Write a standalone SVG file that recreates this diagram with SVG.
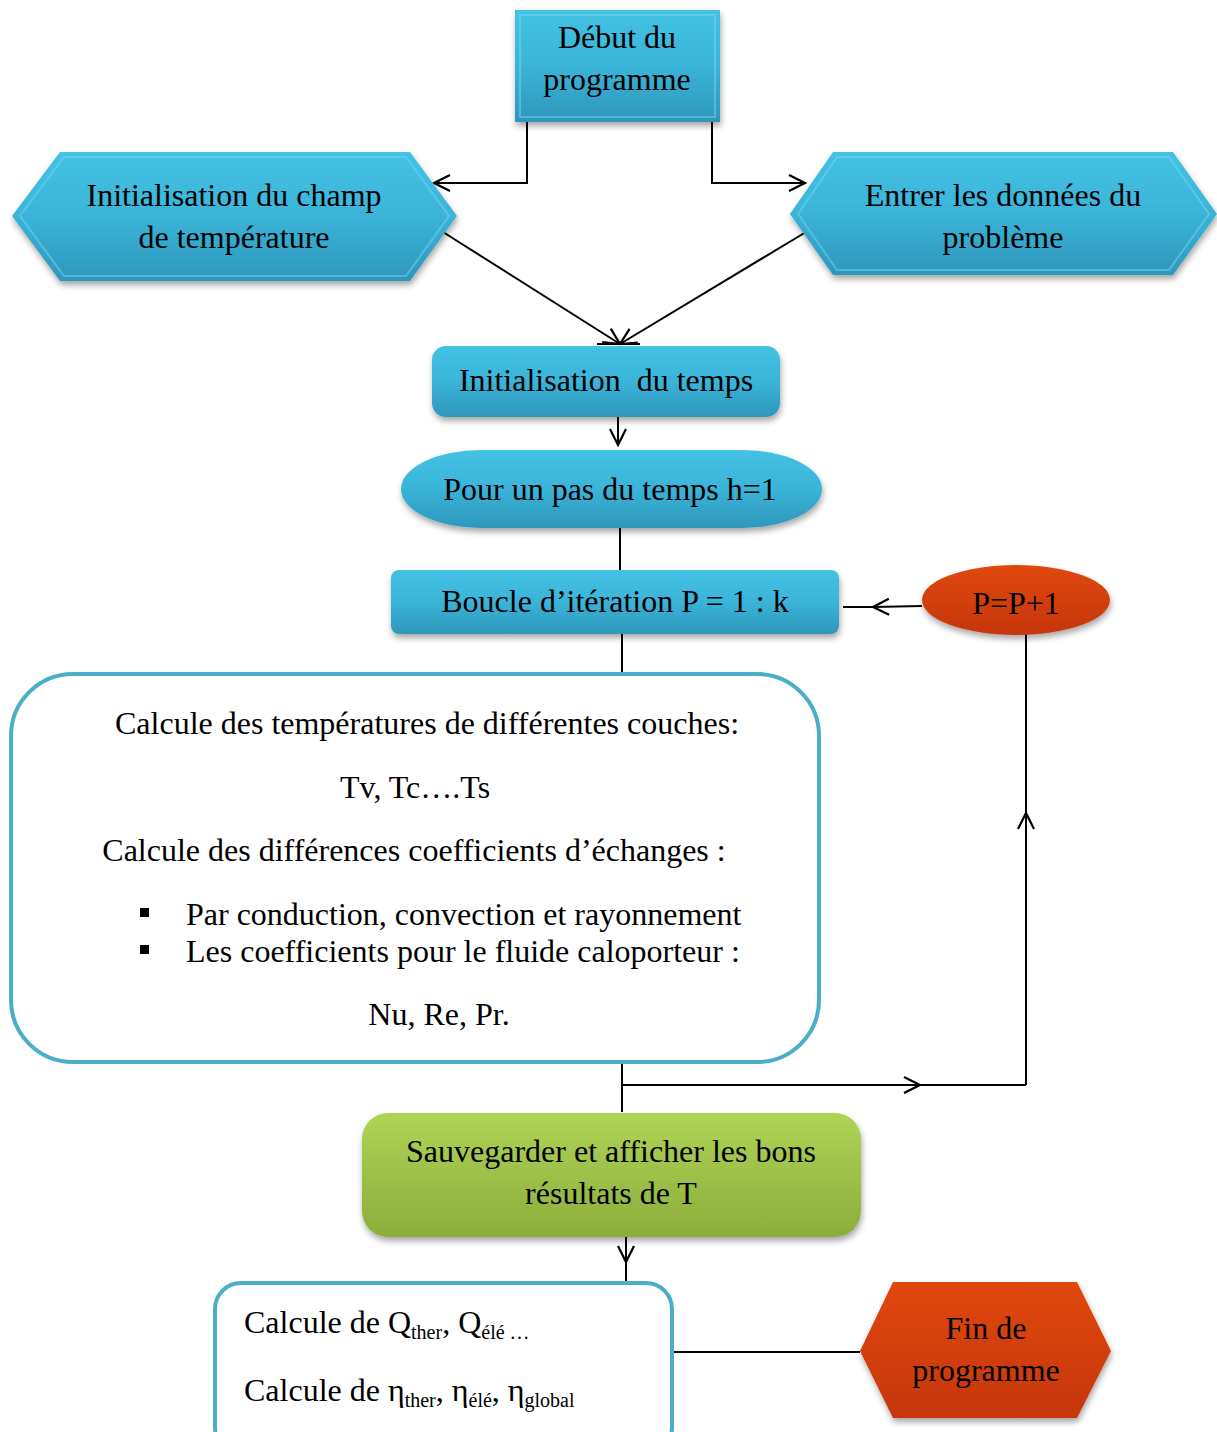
<svg xmlns="http://www.w3.org/2000/svg" width="1217" height="1432" viewBox="0 0 1217 1432">
<style>
text{font-family:"Liberation Serif","Times New Roman",serif;fill:#000;font-size:32px}
.c{text-anchor:middle}
.blue{fill:url(#gb);filter:url(#sh)}
.red{fill:url(#gr);filter:url(#sh)}
.green{fill:url(#gg);filter:url(#sh)}
.frame{fill:#fff;stroke:#4aaec8;stroke-width:4}
.ln{stroke:#000;stroke-width:2;fill:none}
.hl{fill:none;stroke:#7fdaf2;stroke-width:2;opacity:0.45}
.sub{font-size:20px}
</style>
<defs>
<linearGradient id="gb" x1="0" y1="0" x2="0" y2="1">
<stop offset="0" stop-color="#44c2e4"/><stop offset="0.5" stop-color="#3ab4d8"/><stop offset="1" stop-color="#2e97bb"/>
</linearGradient>
<linearGradient id="gr" x1="0" y1="0" x2="0" y2="1">
<stop offset="0" stop-color="#e0480f"/><stop offset="1" stop-color="#c63607"/>
</linearGradient>
<linearGradient id="gg" x1="0" y1="0" x2="0" y2="1">
<stop offset="0" stop-color="#aed456"/><stop offset="1" stop-color="#8cad3c"/>
</linearGradient>
<filter id="sh" x="-10%" y="-10%" width="120%" height="130%">
<feGaussianBlur in="SourceAlpha" stdDeviation="3"/>
<feOffset dx="1" dy="4" result="b"/>
<feComponentTransfer><feFuncA type="linear" slope="0.35"/></feComponentTransfer>
<feMerge><feMergeNode/><feMergeNode in="SourceGraphic"/></feMerge>
</filter>
<marker id="ar" viewBox="0 0 20 20" refX="18" refY="10" markerWidth="20" markerHeight="20" markerUnits="userSpaceOnUse" orient="auto">
<path d="M2,2 L18,10 L2,18" fill="none" stroke="#000" stroke-width="2.2"/>
</marker>
</defs>

<g id="connectors">
<polyline class="ln" points="527,122 527,183 434,183" marker-end="url(#ar)"/>
<polyline class="ln" points="712,122 712,183 805,183" marker-end="url(#ar)"/>
<line class="ln" x1="443" y1="232" x2="620" y2="344" marker-end="url(#ar)"/>
<line class="ln" x1="806" y1="232" x2="620" y2="344" marker-end="url(#ar)"/>
<line class="ln" x1="597" y1="344" x2="640" y2="344"/>
<line class="ln" x1="618" y1="417" x2="618" y2="445" marker-end="url(#ar)"/>
<line class="ln" x1="620" y1="528" x2="620" y2="570"/>
<line class="ln" x1="922" y1="606" x2="873" y2="607" marker-end="url(#ar)"/>
<line class="ln" x1="873" y1="607" x2="843" y2="607"/>
<line class="ln" x1="622" y1="634" x2="622" y2="673"/>
<line class="ln" x1="622" y1="1063" x2="622" y2="1112"/>
<line class="ln" x1="622" y1="1085" x2="920" y2="1085" marker-end="url(#ar)"/>
<line class="ln" x1="920" y1="1085" x2="1026" y2="1085"/>
<line class="ln" x1="1026" y1="1085" x2="1026" y2="813" marker-end="url(#ar)"/>
<line class="ln" x1="1026" y1="813" x2="1026" y2="634"/>
<line class="ln" x1="626" y1="1237" x2="626" y2="1262" marker-end="url(#ar)"/>
<line class="ln" x1="626" y1="1262" x2="626" y2="1282"/>
<line class="ln" x1="672" y1="1352" x2="860" y2="1352"/>
</g>

<g id="debut">
<rect class="blue" x="515" y="10" width="205" height="112"/>
<rect class="hl" x="520" y="15" width="195" height="102"/>
<text class="c" x="617" y="48">Début du</text>
<text class="c" x="617" y="90">programme</text>
</g>

<g id="init-champ">
<polygon class="blue" points="12,216 60,152 410,152 457,216 410,281 60,281"/>
<polygon class="hl" points="20,216 64,157 406,157 449,216 406,276 64,276"/>
<text class="c" x="234" y="206">Initialisation du champ</text>
<text class="c" x="234" y="248">de température</text>
</g>

<g id="entrer-donnees">
<polygon class="blue" points="790,214 833,152 1173,152 1217,214 1173,275 833,275"/>
<polygon class="hl" points="798,214 837,157 1169,157 1209,214 1169,270 837,270"/>
<text class="c" x="1003" y="206">Entrer les données du</text>
<text class="c" x="1003" y="248">problème</text>
</g>

<g id="init-temps">
<rect class="blue" x="432" y="346" width="348" height="71" rx="14"/>
<text class="c" x="606" y="391" xml:space="preserve">Initialisation  du temps</text>
</g>

<g id="pas-temps">
<rect class="blue" x="401" y="450" width="421" height="78" rx="80" ry="39"/>
<text class="c" x="610" y="500">Pour un pas du temps h=1</text>
</g>

<g id="boucle">
<rect class="blue" x="391" y="570" width="448" height="64" rx="8"/>
<text class="c" x="615" y="612">Boucle d’itération P = 1 : k</text>
</g>

<g id="increment">
<ellipse class="red" cx="1016" cy="600" rx="94" ry="35"/>
<text class="c" x="1016" y="614">P=P+1</text>
</g>

<g id="calcul-temperatures">
<rect class="frame" x="11" y="674" width="808" height="388" rx="62"/>
<text class="c" x="427" y="734">Calcule des températures de différentes couches:</text>
<text class="c" x="415" y="798">Tv, Tc….Ts</text>
<text class="c" x="414" y="861">Calcule des différences coefficients d’échanges :</text>
<rect x="140" y="908" width="9" height="9" fill="#000"/>
<text x="186" y="925">Par conduction, convection et rayonnement</text>
<rect x="140" y="945" width="9" height="9" fill="#000"/>
<text x="186" y="962">Les coefficients pour le fluide caloporteur :</text>
<text class="c" x="439" y="1025">Nu, Re, Pr.</text>
</g>

<g id="sauvegarder">
<rect class="green" x="362" y="1113" width="499" height="124" rx="26"/>
<text class="c" x="611" y="1162">Sauvegarder et afficher les bons</text>
<text class="c" x="611" y="1204">résultats de T</text>
</g>

<g id="calcul-rendements">
<rect class="frame" x="215" y="1283" width="457" height="170" rx="26"/>
<text x="244" y="1333">Calcule de Q<tspan class="sub" dy="6">ther</tspan><tspan dy="-6">, Q</tspan><tspan class="sub" dy="6">élé …</tspan></text>
<text x="244" y="1401">Calcule de η<tspan class="sub" dy="6">ther</tspan><tspan dy="-6">, η</tspan><tspan class="sub" dy="6">élé</tspan><tspan dy="-6">, η</tspan><tspan class="sub" dy="6">global</tspan></text>
</g>

<g id="fin">
<polygon class="red" points="860,1351 893,1282 1077,1282 1111,1351 1077,1418 893,1418"/>
<text class="c" x="986" y="1339">Fin de</text>
<text class="c" x="986" y="1381">programme</text>
</g>
</svg>
